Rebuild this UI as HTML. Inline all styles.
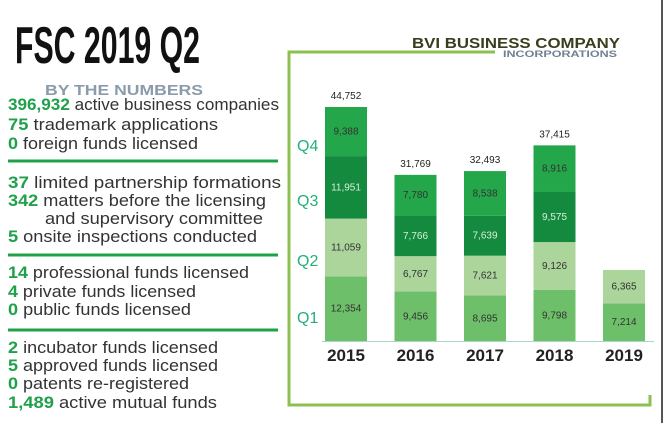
<!DOCTYPE html>
<html><head><meta charset="utf-8"><style>
html,body{margin:0;padding:0;background:#fff;}
svg{display:block;font-family:"Liberation Sans",sans-serif;}
</style></head><body>
<svg width="664" height="423" viewBox="0 0 664 423">
<rect x="0" y="0" width="664" height="423" fill="#fff"/>
<line x1="662" y1="0" x2="662" y2="423" stroke="#555" stroke-width="2"/>
<text x="15" y="63" font-size="52" font-weight="bold" textLength="185" lengthAdjust="spacingAndGlyphs" fill="#111">FSC 2019 Q2</text>
<text x="45" y="95" font-size="15" font-weight="bold" textLength="158" lengthAdjust="spacingAndGlyphs" fill="#8a9bab">BY THE NUMBERS</text>
<g id="stats" font-size="17" fill="#333"></g>
<g id="seps"></g>
<text x="412" y="48" font-size="15" font-weight="bold" textLength="208" lengthAdjust="spacingAndGlyphs" fill="#3a3d1e">BVI BUSINESS COMPANY</text>
<text x="503" y="57" font-size="9" font-weight="bold" textLength="114" lengthAdjust="spacingAndGlyphs" fill="#6f8194">INCORPORATIONS</text>
<polyline points="495,52 289,52 289,405 650,405 650,395" fill="none" stroke="#8cc152" stroke-width="3"/>
<g id="chart"></g>
</svg>
<script>
var NS="http://www.w3.org/2000/svg";
function mk(tag,attrs,parent){var e=document.createElementNS(NS,tag);for(var k in attrs)e.setAttribute(k,attrs[k]);parent.appendChild(e);return e;}
var statNums=["396,932","75","0","37","342","","5","14","4","0","2","5","0","1,489"];
var statText=[" active business companies"," trademark applications"," foreign funds licensed","  limited partnership formations"," matters before the licensing","and supervisory committee"," onsite inspections conducted"," professional funds licensed"," private funds licensed"," public funds licensed"," incubator funds licensed"," approved funds licensed"," patents re-registered"," active mutual funds"];
var statY=[104,124,143,182,200,218,236,272,291,309,347,365,383,402];
var statX=[8,8,8,8,8,45,8,8,8,8,8,8,8,8];
var statR=[279,218,198,281,266,263,257,249,196,191,218,218,189,217];
var sg=document.getElementById('stats');
for(var i=0;i<statNums.length;i++){
  var t=mk('text',{x:statX[i],y:statY[i]+6,textLength:statR[i]-statX[i],lengthAdjust:'spacingAndGlyphs'},sg);
  
  
  if(statNums[i]){var a=mk('tspan',{fill:'#1fa14a','font-weight':'bold'},t);a.textContent=statNums[i];}
  var b=mk('tspan',{},t);b.textContent=statText[i];
}
var sepY=[161,255,330];
var sp=document.getElementById('seps');
sepY.forEach(function(y){var l=mk('line',{x1:8,x2:278,y1:y,y2:y,stroke:'#1fa14a','stroke-width':3},sp);

});
var years=["2015","2016","2017","2018","2019"];
var q1=[12354,9456,8695,9798,7214];
var q2=[11059,6767,7621,9126,6365];
var q3=[11951,7766,7639,9575,null];
var q4=[9388,7780,8538,8916,null];
var quarterLabels=["Q1","Q2","Q3","Q4"];
var quarterLabelY=[317,260,200,145];
var colors=["#6dbf6a","#abd59b","#148a3e","#24a64a"];
var textColors=["#333","#333","#d8eedc","#333"];
var baseY=341, scale=234/44752, x0=325, step=69.5, bw=42;
function yOf(v){return baseY-v*scale;}
function xOf(i){return x0+i*step;}
var cg=document.getElementById('chart');
var series=[q1,q2,q3,q4];
for(var i=0;i<years.length;i++){
  var cum=0;
  for(var s=0;s<4;s++){
    var v=series[s][i]; if(v==null) continue;
    var yt=yOf(cum+v), yb=yOf(cum);
    var r=mk('rect',{x:xOf(i),y:yt,width:bw,height:yb-yt,fill:colors[s]},cg);
    
    
    var t=mk('text',{x:xOf(i)+bw/2,y:(yt+yb)/2+3,'font-size':10,'text-anchor':'middle',fill:textColors[s]},cg);
    
    
    t.textContent=v.toLocaleString('en-US');
    cum+=v;
  }
  if(i<4){
    var tt=mk('text',{x:xOf(i)+bw/2,y:yOf(cum)-8,'font-size':10,'text-anchor':'middle',fill:'#222'},cg);
    
    
    tt.textContent=cum.toLocaleString('en-US');
  }
  var yl=mk('text',{x:xOf(i)+bw/2,y:361,'font-size':17,'font-weight':'bold','text-anchor':'middle',fill:'#222'},cg);
  
  
  yl.textContent=years[i];
}
var ax=mk('line',{x1:322,x2:654,y1:baseY+0.5,y2:baseY+0.5,stroke:'#a8d8c8','stroke-width':1},cg);


for(var q=0;q<4;q++){
  var ql=mk('text',{x:297,y:quarterLabelY[q]+6,'font-size':16,fill:'#22b07a'},cg);
  
  
  ql.textContent=quarterLabels[q];
}
</script>
</body></html>
